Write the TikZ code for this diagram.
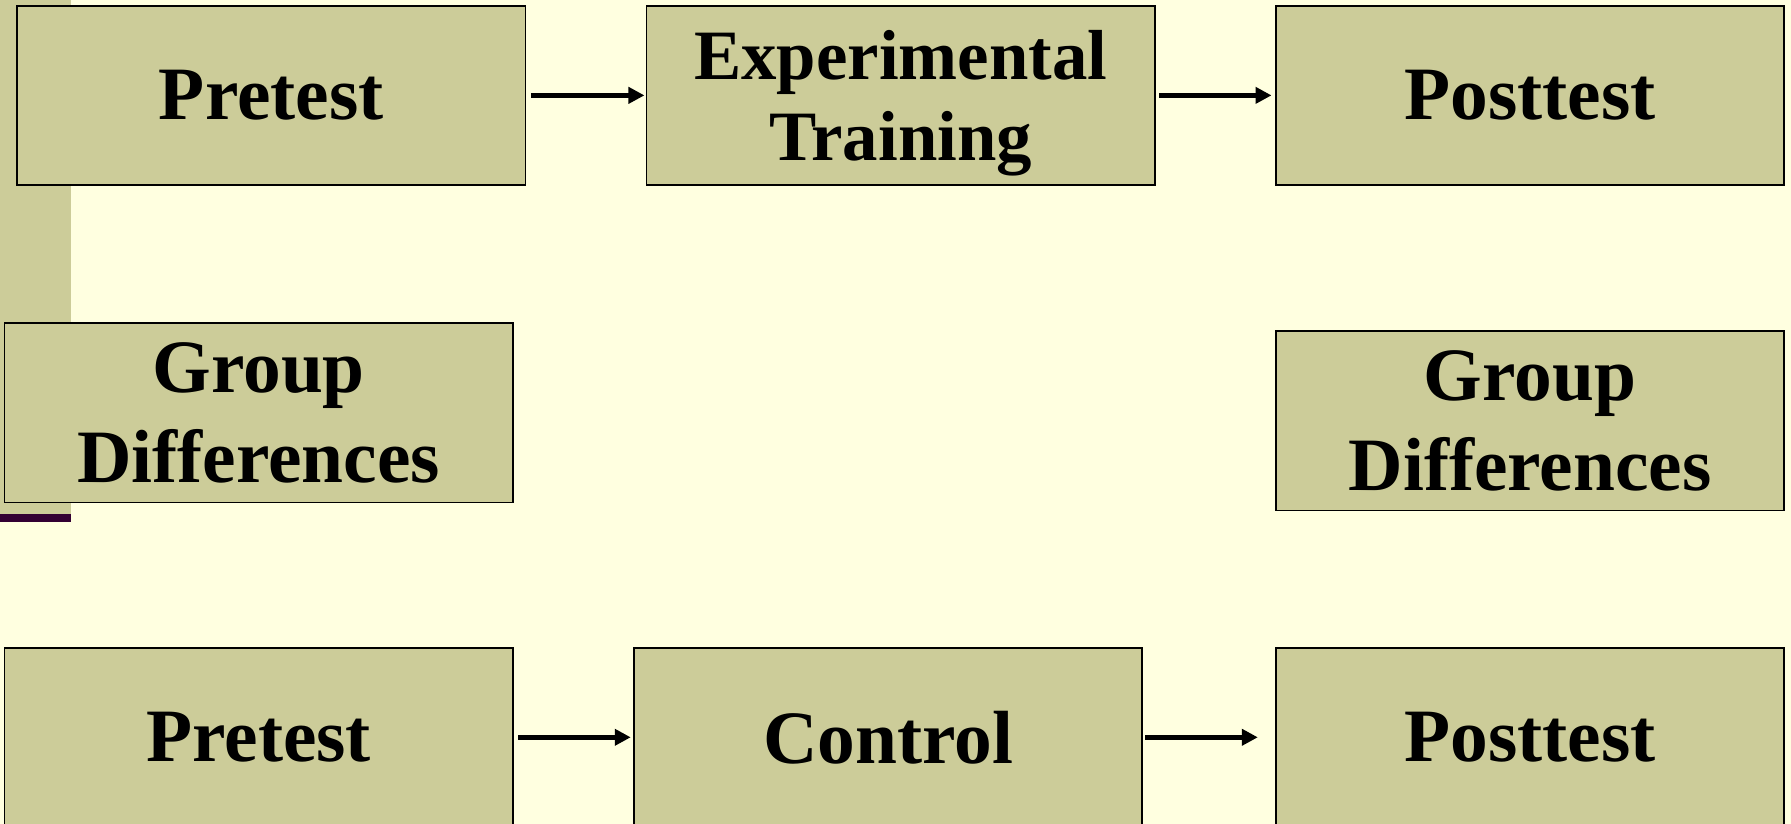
\documentclass[tikz,border=0pt]{standalone}
\usepackage{fontspec}
\newfontfamily\boxfont{Liberation Serif}
\usetikzlibrary{arrows.meta}
\definecolor{bgyellow}{RGB}{255,255,224}
\definecolor{khaki}{RGB}{204,204,153}
\definecolor{darkplum}{RGB}{51,0,51}
\begin{document}
\begin{tikzpicture}[x=0.5pt,y=-0.5pt,
  stagebox/.style={draw=black, line width=0.8pt, fill=khaki,
    minimum width=222.5pt, minimum height=78.5pt, inner sep=0pt,
    align=center, font=\boxfont\bfseries\fontsize{33}{39}\selectfont},
  smalltext/.style={inner sep=0pt, align=center,
    font=\boxfont\bfseries\fontsize{31}{35.5}\selectfont},
  flow/.style={line width=2pt, -{Triangle[length=7pt,width=7pt]}}]
\useasboundingbox (0,0) rectangle (1568,721);
\clip (0,0) rectangle (1568,721);
\fill[bgyellow] (0,0) rectangle (1568,721);
\fill[khaki] (0,0) rectangle (62,450);
\fill[darkplum] (0,450) rectangle (62,457);

\node[stagebox] (b1) at (237.5,83.5) {Pretest};
\node[stagebox] (b2) at (788.5,83.5) {};
\node[smalltext] (b2t) at ([yshift=-3.5pt]b2.center) {Experimental\\Training};
\node[stagebox] (b3) at (1339.5,83.5) {Posttest};
\node[stagebox] (b4) at (226.5,361.5) {Group\\Differences};
\node[stagebox] (b5) at (1339.5,368.5) {Group\\Differences};
\node[stagebox] (b6) at (226.5,645.5) {Pretest};
\node[stagebox] (b7) at (777.5,645.5) {Control};
\node[stagebox] (b8) at (1339.5,645.5) {Posttest};

\draw[flow, shorten <=2pt, shorten >=0.5pt] (b1.east) -- (b2.west);
\draw[flow, shorten <=1.5pt, shorten >=1.5pt] (b2.east) -- (b3.west);
\draw[flow, shorten <=2pt, shorten >=1pt] (b6.east) -- (b7.west);
\draw[flow, shorten <=1pt, shorten >=7.5pt] (b7.east) -- (b8.west);
\end{tikzpicture}
\end{document}
